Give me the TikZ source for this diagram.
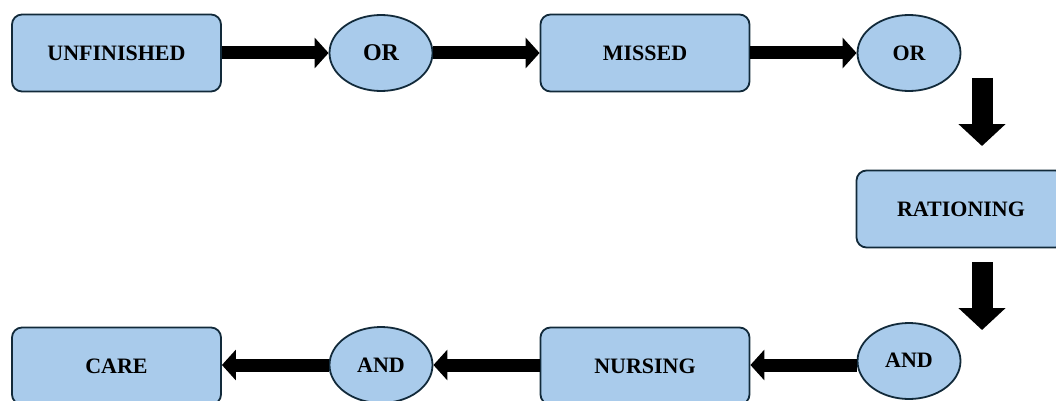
\documentclass[tikz,border=0pt]{standalone}
\usepackage{fontspec}
\setmainfont{Liberation Serif}
\usetikzlibrary{shapes.geometric,arrows.meta}
\definecolor{boxfill}{RGB}{169,203,235}
\definecolor{boxline}{RGB}{18,42,58}
\begin{document}
\begin{tikzpicture}[x=1pt,y=-1pt,
  wordbox/.style={draw=boxline, line width=1.8pt, fill=boxfill, rounded corners=10pt,
    minimum width=209pt, minimum height=77pt, inner sep=0pt,
    font=\fontsize{22}{24}\selectfont\bfseries},
  gate/.style={ellipse, draw=boxline, line width=1.8pt, fill=boxfill,
    minimum width=103pt, minimum height=76pt, inner sep=0pt,
    font=\fontsize{22}{24}\selectfont\bfseries},
  flow/.style={line width=13pt, draw=black, -{Triangle[length=14pt,width=30pt]}},
  dflow/.style={line width=21pt, draw=black, -{Triangle[length=22pt,width=46pt]}}
]
\useasboundingbox (0,0) rectangle (1056,401);
\node[wordbox] (unf) at (116.5,53) {UNFINISHED};
\node[gate, font=\fontsize{24}{26}\selectfont\bfseries] (or1) at (381,53) {OR};
\node[wordbox] (mis) at (645,53) {MISSED};
\node[gate] (or2) at (909,53) {OR};
\node[wordbox] (rat) at (961,209) {RATIONING};
\node[gate] (and1) at (909,361) {\raisebox{2pt}{AND}};
\node[wordbox] (nur) at (645,366) {NURSING};
\node[gate] (and2) at (381,365) {AND};
\node[wordbox] (care) at (116.5,366) {CARE};
\coordinate (v1s) at (982,78);
\coordinate (v1e) at (982,146);
\coordinate (v2s) at (982,262);
\coordinate (v2e) at (982,330);
\draw[flow] (unf.east) -- (or1.west);
\draw[flow] (or1.east) -- (mis.west);
\draw[flow] (mis.east) -- (or2.west);
\draw[dflow] (v1s) -- (v1e);
\draw[dflow] (v2s) -- (v2e);
\draw[flow] (and1.west |- and2) -- (nur.east |- and2);
\draw[flow] (nur.west |- and2) -- (and2.east);
\draw[flow] (and2.west) -- (care.east |- and2);
\end{tikzpicture}
\end{document}
